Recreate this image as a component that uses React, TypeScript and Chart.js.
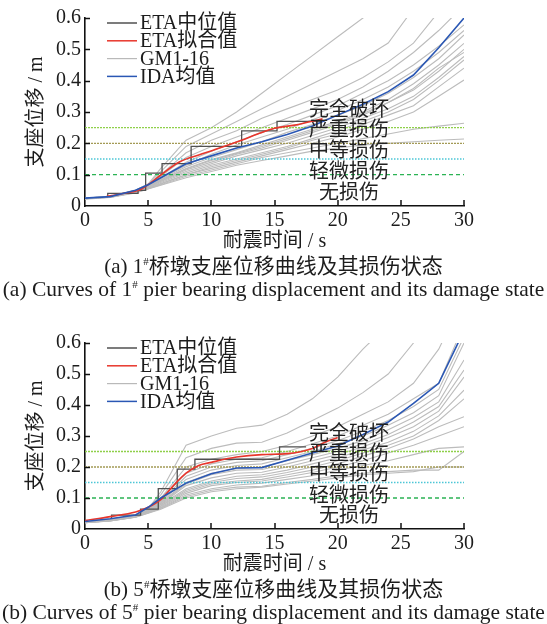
import { useEffect, useRef } from "react";
import { Chart, registerables } from "chart.js";

Chart.register(...registerables);

const FONT_FAMILY = '"Liberation Serif", "Noto Sans CJK SC", serif';
const CJK_FAMILY = '"Noto Sans CJK SC", "Liberation Serif", sans-serif';
const INK = "#1c1c1c";

// Sampling times (s) of the IDA / GM records
const TIME = [0, 2, 4, 5, 6, 8, 10, 12, 14, 16, 18, 20, 22, 24, 26, 28, 30];

// ---------- Pier 1# ----------
const GM_PIER1: number[][] = [
  [0.025, 0.03, 0.05, 0.07, 0.12, 0.21, 0.25, 0.3, 0.36, 0.42, 0.48, 0.54, 0.6, 0.66, 0.72, 0.78, 0.84],
  [0.025, 0.03, 0.05, 0.07, 0.11, 0.19, 0.23, 0.27, 0.31, 0.35, 0.39, 0.43, 0.47, 0.52, 0.63, 0.72, 0.8],
  [0.025, 0.03, 0.05, 0.068, 0.1, 0.17, 0.21, 0.24, 0.28, 0.31, 0.34, 0.37, 0.41, 0.46, 0.52, 0.62, 0.7],
  [0.025, 0.03, 0.048, 0.066, 0.095, 0.155, 0.19, 0.22, 0.25, 0.28, 0.31, 0.34, 0.38, 0.43, 0.49, 0.56, 0.64],
  [0.024, 0.03, 0.048, 0.065, 0.09, 0.14, 0.175, 0.205, 0.235, 0.26, 0.29, 0.32, 0.36, 0.4, 0.45, 0.51, 0.578],
  [0.024, 0.03, 0.047, 0.064, 0.088, 0.13, 0.165, 0.195, 0.22, 0.245, 0.275, 0.305, 0.34, 0.38, 0.43, 0.49, 0.56],
  [0.024, 0.029, 0.046, 0.063, 0.085, 0.125, 0.155, 0.18, 0.205, 0.235, 0.26, 0.29, 0.32, 0.36, 0.41, 0.47, 0.546],
  [0.024, 0.029, 0.046, 0.062, 0.083, 0.12, 0.148, 0.17, 0.195, 0.22, 0.245, 0.27, 0.3, 0.34, 0.39, 0.45, 0.519],
  [0.024, 0.029, 0.045, 0.06, 0.08, 0.115, 0.14, 0.165, 0.185, 0.21, 0.235, 0.26, 0.29, 0.33, 0.37, 0.43, 0.5],
  [0.023, 0.029, 0.045, 0.06, 0.078, 0.11, 0.135, 0.16, 0.18, 0.2, 0.225, 0.25, 0.28, 0.31, 0.35, 0.41, 0.477],
  [0.023, 0.028, 0.044, 0.058, 0.075, 0.105, 0.13, 0.15, 0.17, 0.19, 0.215, 0.24, 0.27, 0.3, 0.34, 0.4, 0.466],
  [0.023, 0.028, 0.044, 0.057, 0.072, 0.1, 0.125, 0.145, 0.165, 0.185, 0.21, 0.23, 0.26, 0.29, 0.32, 0.38, 0.44],
  [0.023, 0.028, 0.043, 0.056, 0.07, 0.1, 0.12, 0.14, 0.16, 0.18, 0.2, 0.22, 0.245, 0.27, 0.3, 0.35, 0.402],
  [0.024, 0.029, 0.045, 0.061, 0.082, 0.118, 0.145, 0.168, 0.19, 0.215, 0.24, 0.265, 0.295, 0.33, 0.375, 0.44, 0.49],
  [0.023, 0.028, 0.043, 0.055, 0.068, 0.095, 0.115, 0.135, 0.155, 0.17, 0.185, 0.2, 0.215, 0.23, 0.245, 0.255, 0.264],
  [0.022, 0.027, 0.042, 0.054, 0.066, 0.09, 0.11, 0.13, 0.145, 0.16, 0.175, 0.185, 0.195, 0.2, 0.205, 0.21, 0.214],
];
const IDA_MEAN_PIER1 = [0.025, 0.03, 0.05, 0.068, 0.09, 0.135, 0.16, 0.185, 0.205, 0.228, 0.255, 0.29, 0.325, 0.365, 0.418, 0.505, 0.6];
const ETA_FIT_T_PIER1 = [1.7, 3, 4.4, 5, 6, 7.5, 9, 10.2, 12.4, 13.8, 15, 16.6, 18.8];
const ETA_FIT_V_PIER1 = [0.03, 0.04, 0.053, 0.068, 0.099, 0.141, 0.163, 0.179, 0.21, 0.232, 0.248, 0.258, 0.278];
const ETA_MED_T_PIER1 = [1.8, 1.8, 4.2, 4.8, 6.1, 8.4, 12.4, 15.2, 18.8];
const ETA_MED_V_PIER1 = [0.03, 0.04, 0.05, 0.105, 0.135, 0.19, 0.24, 0.27, 0.27];

// ---------- Pier 5# ----------
const GM_PIER5: number[][] = [
  [0.022, 0.03, 0.045, 0.065, 0.12, 0.27, 0.3, 0.325, 0.335, 0.37, 0.42, 0.49, 0.58, 0.66, 0.74, 0.82, 0.9],
  [0.022, 0.03, 0.045, 0.065, 0.11, 0.23, 0.26, 0.277, 0.28, 0.31, 0.35, 0.39, 0.44, 0.5, 0.6, 0.7, 0.8],
  [0.022, 0.03, 0.044, 0.064, 0.1, 0.2, 0.225, 0.24, 0.25, 0.27, 0.3, 0.33, 0.37, 0.41, 0.47, 0.58, 0.75],
  [0.022, 0.03, 0.044, 0.063, 0.095, 0.18, 0.21, 0.225, 0.23, 0.25, 0.275, 0.3, 0.335, 0.37, 0.42, 0.47, 0.66],
  [0.022, 0.029, 0.043, 0.062, 0.09, 0.17, 0.2, 0.215, 0.22, 0.24, 0.26, 0.285, 0.315, 0.35, 0.395, 0.45, 0.62],
  [0.022, 0.029, 0.043, 0.061, 0.088, 0.16, 0.19, 0.205, 0.21, 0.23, 0.25, 0.275, 0.3, 0.335, 0.375, 0.43, 0.6],
  [0.021, 0.029, 0.042, 0.06, 0.085, 0.15, 0.18, 0.195, 0.2, 0.22, 0.24, 0.26, 0.285, 0.32, 0.36, 0.41, 0.545],
  [0.021, 0.028, 0.042, 0.059, 0.083, 0.145, 0.175, 0.19, 0.192, 0.21, 0.23, 0.25, 0.275, 0.305, 0.345, 0.395, 0.513],
  [0.021, 0.028, 0.041, 0.058, 0.08, 0.14, 0.165, 0.18, 0.183, 0.2, 0.22, 0.24, 0.265, 0.295, 0.33, 0.38, 0.49],
  [0.021, 0.028, 0.041, 0.057, 0.078, 0.13, 0.155, 0.17, 0.175, 0.19, 0.21, 0.23, 0.255, 0.28, 0.315, 0.365, 0.448],
  [0.021, 0.028, 0.04, 0.056, 0.075, 0.125, 0.15, 0.163, 0.168, 0.182, 0.2, 0.22, 0.245, 0.27, 0.3, 0.35, 0.42],
  [0.021, 0.027, 0.04, 0.055, 0.073, 0.12, 0.145, 0.155, 0.16, 0.175, 0.19, 0.21, 0.235, 0.26, 0.29, 0.33, 0.362],
  [0.02, 0.027, 0.039, 0.054, 0.07, 0.115, 0.14, 0.15, 0.155, 0.168, 0.182, 0.2, 0.22, 0.245, 0.27, 0.3, 0.33],
  [0.02, 0.027, 0.039, 0.053, 0.068, 0.11, 0.13, 0.142, 0.148, 0.16, 0.172, 0.19, 0.205, 0.22, 0.24, 0.26, 0.265],
  [0.02, 0.026, 0.038, 0.052, 0.066, 0.105, 0.125, 0.135, 0.138, 0.15, 0.16, 0.172, 0.18, 0.185, 0.19, 0.19, 0.25],
  [0.02, 0.026, 0.038, 0.051, 0.064, 0.1, 0.12, 0.13, 0.135, 0.145, 0.155, 0.165, 0.175, 0.18, 0.185, 0.2, 0.2],
];
const IDA_MEAN_PIER5 = [0.024, 0.033, 0.045, 0.07, 0.1, 0.148, 0.178, 0.197, 0.198, 0.222, 0.245, 0.268, 0.305, 0.345, 0.405, 0.47, 0.64];
const ETA_FIT_T_PIER5 = [0, 2, 4, 5, 6, 7, 8, 9, 10, 12, 14, 16, 18, 19, 20];
const ETA_FIT_V_PIER5 = [0.027, 0.04, 0.055, 0.07, 0.095, 0.14, 0.18, 0.205, 0.215, 0.232, 0.24, 0.243, 0.26, 0.28, 0.295];
const ETA_MED_T_PIER5 = [2.1, 2.1, 4.4, 5.8, 7.3, 8.7, 15.4, 17.5];
const ETA_MED_V_PIER5 = [0.035, 0.045, 0.064, 0.13, 0.193, 0.225, 0.265, 0.265];

// Damage-state limits of bearing displacement (m)
const LIMIT_VALUES = [0.1, 0.15, 0.2, 0.25];
const LIMIT_COLORS = ["#2bb354", "#4cc6d6", "#a39a55", "#8fd04a"];
const LIMIT_DASHES = [[4, 3], [1.5, 1.5], [2, 1], [2, 1]];

const DAMAGE_NAMES = ["完全破坏", "严重损伤", "中等损伤", "轻微损伤", "无损伤"];
const DAMAGE_LABEL_Y = [0.31, 0.248, 0.181, 0.113, 0.048];
const DAMAGE_LABEL_X = 20.9;

const LEGEND_NAMES = ["ETA中位值", "ETA拟合值", "GM1-16", "IDA均值"];
const LEGEND_COLORS = ["#505050", "#e8362c", "#b9b9b9", "#2a57b4"];

const X_TITLE = "耐震时间 / s";
const Y_TITLE = "支座位移 / m";

const W = 547;

type PierData = {
  gm: number[][];
  ida: number[];
  fitT: number[];
  fitV: number[];
  medT: number[];
  medV: number[];
};

type Frame = {
  top: number; // canvas top on the page
  height: number;
  padTop: number;
  xScaleHeight: number;
  titlePadBottom: number;
};

const pts = (xs: number[], ys: number[]) => xs.map((x, i) => ({ x, y: ys[i] }));

const overlayPlugin = {
  id: "overlay",
  afterDatasetsDraw(chart: any) {
    const { ctx, chartArea, scales } = chart;
    const xs = scales.x;
    const ys = scales.y;
    ctx.save();

    // damage-state names
    ctx.font = `20px ${CJK_FAMILY}`;
    ctx.fillStyle = "#222";
    ctx.textAlign = "center";
    ctx.textBaseline = "middle";
    DAMAGE_NAMES.forEach((name, i) => {
      ctx.fillText(name, xs.getPixelForValue(DAMAGE_LABEL_X), ys.getPixelForValue(DAMAGE_LABEL_Y[i]));
    });

    // legend in the upper-left corner of the plot
    ctx.font = `20px ${FONT_FAMILY}`;
    ctx.textAlign = "left";
    LEGEND_NAMES.forEach((name, i) => {
      const y = chartArea.top + 5 + i * 17.8;
      ctx.strokeStyle = LEGEND_COLORS[i];
      ctx.lineWidth = i === 2 ? 1.2 : 1.5;
      ctx.beginPath();
      ctx.moveTo(chartArea.left + 22, y);
      ctx.lineTo(chartArea.left + 52, y);
      ctx.stroke();
      ctx.fillStyle = INK;
      ctx.fillText(name, chartArea.left + 55, y + 1);
    });

    // inward tick marks
    ctx.strokeStyle = "#111";
    ctx.lineWidth = 1.5;
    ys.ticks.forEach((t: any) => {
      if (t.value === 0) return;
      const py = Math.round(ys.getPixelForValue(t.value)) + 0.5;
      ctx.beginPath();
      ctx.moveTo(chartArea.left, py);
      ctx.lineTo(chartArea.left + 5, py);
      ctx.stroke();
    });
    xs.ticks.forEach((t: any) => {
      if (t.value === 0) return;
      const px = Math.round(xs.getPixelForValue(t.value));
      ctx.beginPath();
      ctx.moveTo(px, chartArea.bottom);
      ctx.lineTo(px, chartArea.bottom - 6);
      ctx.stroke();
    });
    ctx.restore();
  },
};

function buildConfig(d: PierData, f: Frame): any {
  const gray = d.gm.map((vals, i) => ({
    label: `GM${i + 1}`,
    data: pts(TIME, vals),
    borderColor: "#bcbcbc",
    borderWidth: 1.1,
    pointRadius: 0,
    order: 5,
  }));
  const limits = LIMIT_VALUES.map((v, i) => ({
    label: `limit${i}`,
    data: [
      { x: 0, y: v },
      { x: 30, y: v },
    ],
    borderColor: LIMIT_COLORS[i],
    borderDash: LIMIT_DASHES[i],
    borderWidth: 1.3,
    pointRadius: 0,
    order: 4,
  }));
  const median = {
    label: LEGEND_NAMES[0],
    data: pts(d.medT, d.medV),
    stepped: true,
    borderColor: LEGEND_COLORS[0],
    borderWidth: 1.3,
    pointRadius: 0,
    order: 3,
  };
  const fit = {
    label: LEGEND_NAMES[1],
    data: pts(d.fitT, d.fitV),
    cubicInterpolationMode: "monotone",
    borderColor: LEGEND_COLORS[1],
    borderWidth: 1.6,
    pointRadius: 0,
    order: 2,
  };
  const ida = {
    label: LEGEND_NAMES[3],
    data: pts(TIME, d.ida),
    borderColor: LEGEND_COLORS[3],
    borderWidth: 1.6,
    pointRadius: 0,
    order: 1,
  };

  const tickFont = { family: FONT_FAMILY, size: 20 };
  return {
    type: "line",
    data: { datasets: [...gray, ...limits, median, fit, ida] },
    options: {
      animation: false,
      responsive: false,
      events: [],
      layout: { padding: { top: f.padTop, left: 0, right: 83, bottom: 0 } },
      plugins: { legend: { display: false }, tooltip: { enabled: false } },
      scales: {
        x: {
          type: "linear",
          min: 0,
          max: 30,
          ticks: { stepSize: 5, padding: 3, color: INK, font: tickFont, maxRotation: 0 },
          grid: { display: false, drawTicks: false },
          border: { display: true, color: "#111", width: 1.6 },
          title: {
            display: true,
            text: X_TITLE,
            color: INK,
            font: { family: FONT_FAMILY, size: 20 },
            padding: { top: 0, bottom: f.titlePadBottom },
          },
          afterFit: (s: any) => {
            s.height = f.xScaleHeight;
          },
        },
        y: {
          type: "linear",
          min: 0,
          max: 0.6,
          ticks: {
            stepSize: 0.1,
            padding: 4,
            color: INK,
            font: tickFont,
            callback: (v: number) => (v === 0 ? "0" : Number(v).toFixed(1)),
          },
          grid: { display: false, drawTicks: false },
          border: { display: true, color: "#111", width: 1.6 },
          title: {
            display: true,
            text: Y_TITLE,
            color: INK,
            font: { family: FONT_FAMILY, size: 20 },
            padding: { top: 25, bottom: 0 },
          },
          afterFit: (s: any) => {
            s.width = 85;
          },
        },
      },
    },
    plugins: [overlayPlugin],
  };
}

function PierChart({ data, frame }: { data: PierData; frame: Frame }) {
  const ref = useRef<HTMLCanvasElement>(null);
  useEffect(() => {
    const chart = new Chart(ref.current as HTMLCanvasElement, buildConfig(data, frame));
    return () => chart.destroy();
  }, [data, frame]);
  return (
    <canvas
      ref={ref}
      width={W}
      height={frame.height}
      style={{ position: "absolute", left: 0, top: frame.top, width: W, height: frame.height }}
    />
  );
}

function Caption({ center, size, children }: { center: number; size: number; children: any }) {
  return (
    <div
      style={{
        position: "absolute",
        left: 0,
        top: center - 12,
        width: W,
        height: 24,
        lineHeight: "24px",
        textAlign: "center",
        fontFamily: FONT_FAMILY,
        fontSize: size,
        color: INK,
        whiteSpace: "nowrap",
      }}
    >
      {children}
    </div>
  );
}

const Sup = () => (
  <span style={{ fontSize: 11, position: "relative", top: -8 }}>#</span>
);

const PIER1: PierData = {
  gm: GM_PIER1,
  ida: IDA_MEAN_PIER1,
  fitT: ETA_FIT_T_PIER1,
  fitV: ETA_FIT_V_PIER1,
  medT: ETA_MED_T_PIER1,
  medV: ETA_MED_V_PIER1,
};
const PIER5: PierData = {
  gm: GM_PIER5,
  ida: IDA_MEAN_PIER5,
  fitT: ETA_FIT_T_PIER5,
  fitV: ETA_FIT_V_PIER5,
  medT: ETA_MED_T_PIER5,
  medV: ETA_MED_V_PIER5,
};

const FRAME1: Frame = { top: 0, height: 270, padTop: 18, xScaleHeight: 64, titlePadBottom: 16 };
const FRAME5: Frame = { top: 310, height: 270, padTop: 33, xScaleHeight: 51, titlePadBottom: 3 };

export default function App() {
  return (
    <div style={{ position: "absolute", left: 0, top: 0, width: W, height: 624, background: "#fff", overflow: "hidden" }}>
      <PierChart data={PIER1} frame={FRAME1} />
      <PierChart data={PIER5} frame={FRAME5} />
      <Caption center={266} size={21}>
        (a) 1<Sup />桥墩支座位移曲线及其损伤状态
      </Caption>
      <Caption center={289} size={21.5}>
        (a) Curves of 1<Sup /> pier bearing displacement and its damage state
      </Caption>
      <Caption center={589} size={21}>
        (b) 5<Sup />桥墩支座位移曲线及其损伤状态
      </Caption>
      <Caption center={612} size={21.5}>
        (b) Curves of 5<Sup /> pier bearing displacement and its damage state
      </Caption>
    </div>
  );
}
